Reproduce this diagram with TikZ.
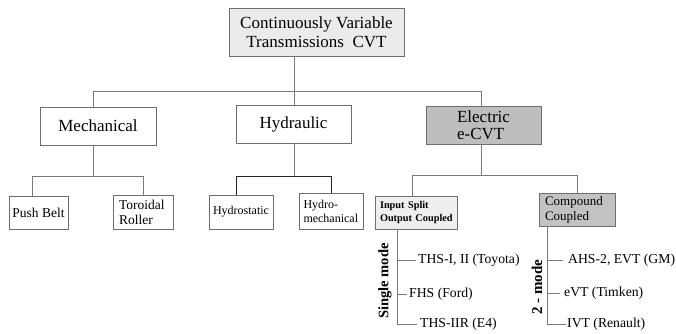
\documentclass[tikz,border=0pt]{standalone}
\usepackage{fontspec}
\setmainfont{Liberation Serif}
\definecolor{boxgray}{HTML}{6E6E6E}
\definecolor{linegray}{HTML}{7A7A7A}
\definecolor{topfill}{HTML}{EBEBEB}
\definecolor{elecfill}{HTML}{BEBEBE}
\definecolor{splitfill}{HTML}{EEEEEE}
\definecolor{compfill}{HTML}{C2C2C2}
\begin{document}
\begin{tikzpicture}[x=1pt,y=-1pt,
  box/.style={draw=boxgray, line width=0.8pt, inner sep=0pt, align=center},
  lbox/.style={draw=boxgray, line width=0.8pt, inner xsep=6pt, inner ysep=0pt, align=left},
  conn/.style={draw=linegray, line width=0.8pt},
  dconn/.style={draw=black!85, line width=0.9pt},
  leaf/.style={anchor=west, inner sep=0pt, font=\fontsize{13.7}{15}\selectfont},
  vlab/.style={rotate=90, inner sep=0pt, font=\fontsize{14.5}{16}\selectfont\bfseries}]
\useasboundingbox (0,0) rectangle (676,333);

% level 0
\node[box, fill=topfill, minimum width=175, minimum height=48,
      font=\fontsize{17}{19}\selectfont] (top) at (316.5,32)
      {Continuously Variable\\Transmissions~~CVT};

% level 1
\node[box, minimum width=116, minimum height=38, font=\fontsize{17}{19}\selectfont]
  (mech) at (98,126) {Mechanical};
\node[box, minimum width=115, minimum height=38, font=\fontsize{17}{19}\selectfont]
  (hyd) at (293.5,124) {Hydraulic};
\node[box, fill=elecfill, minimum width=115, minimum height=38, align=left,
      font=\fontsize{17}{17.5}\selectfont]
  (elec) at (483.5,125) {Electric\\e-CVT};

% level 2
\node[box, minimum width=59, minimum height=33, font=\fontsize{13.5}{15}\selectfont]
  (push) at (38.5,212.5) {Push Belt};
\node[lbox, text width=48, minimum height=34, font=\fontsize{13.5}{15}\selectfont]
  (toro) at (143,212) {Toroidal\\Roller};
\node[box, minimum width=64, minimum height=34, font=\fontsize{12}{13}\selectfont]
  (hstat) at (241,212) {Hydrostatic};
\node[lbox, inner xsep=4pt, text width=56, minimum height=36, font=\fontsize{12}{14}\selectfont]
  (hmech) at (331.5,211) {Hydro-\\mechanical};
\node[lbox, fill=splitfill, inner xsep=5pt, text width=72, minimum height=33,
      font=\fontsize{10.3}{13}\selectfont\bfseries]
  (split) at (416,212.5) {\mbox{Input Split}\\\mbox{Output Coupled}};
\node[lbox, fill=compfill, text width=64, minimum height=33, font=\fontsize{13}{15}\selectfont]
  (comp) at (577,209.5) {Compound\\Coupled};

% connectors level 0-1
\coordinate (b0) at (294,91);
\coordinate (bm) at (93,91);
\coordinate (be) at (481,91);
\draw[conn] (top.south -| b0) -- (b0);
\draw[conn] (mech.north -| bm) -- (bm) -- (be) -- (elec.north -| be);
\draw[conn] (hyd.north -| b0) -- (b0);

% mechanical subtree
\coordinate (m0) at (93,176);
\coordinate (m1) at (32,176);
\coordinate (m2) at (143,176);
\draw[conn] (mech.south -| m0) -- (m0);
\draw[conn] (push.north -| m1) -- (m1) -- (m2) -- (toro.north -| m2);

% hydraulic subtree
\coordinate (h0) at (294,176);
\coordinate (h1) at (236,176);
\coordinate (h2) at (331,176);
\draw[conn] (hyd.south -| h0) -- (h0);
\draw[dconn] (hstat.north -| h1) -- (h1) -- (h2) -- (hmech.north -| h2);

% electric subtree
\coordinate (e0) at (481,175);
\coordinate (e1) at (412,175);
\coordinate (e2) at (577,175);
\draw[conn] (elec.south -| e0) -- (e0);
\draw[conn] (split.north -| e1) -- (e1) -- (e2) -- (comp.north -| e2);

% single mode leaves
\coordinate (s1) at (397,260);
\coordinate (s2) at (397,294);
\coordinate (s3) at (397,324);
\node[leaf] (ths) at (418,260) {THS-I, II (Toyota)};
\node[leaf] (fhs) at (409,294) {FHS (Ford)};
\node[leaf] (thsr) at (420,324) {THS-IIR (E4)};
\draw[conn] (split.south -| s3) -- (s3) -- ([xshift=-3pt]thsr.west);
\draw[conn] (s1) -- ([xshift=-2pt]ths.west);
\draw[conn] (s2) -- ([xshift=-2pt]fhs.west);
\node[vlab] (single) at (385,281) {Single mode};

% two mode leaves
\coordinate (c1) at (547,260);
\coordinate (c2) at (547,293);
\coordinate (c3) at (547,324);
\node[leaf] (ahs) at (568,260) {AHS-2, EVT (GM)};
\node[leaf] (evt) at (564,293) {eVT (Timken)};
\node[leaf] (ivt) at (567,324) {IVT (Renault)};
\draw[conn] (comp.south -| c3) -- (c3) -- ([xshift=-1pt]ivt.west);
\draw[conn] (c1) -- ([xshift=-5pt]ahs.west);
\draw[conn] (c2) -- ([xshift=-4pt]evt.west);
\node[vlab, font=\fontsize{15}{16}\selectfont\bfseries] (two) at (537,287) {2 - mode};
\end{tikzpicture}
\end{document}
